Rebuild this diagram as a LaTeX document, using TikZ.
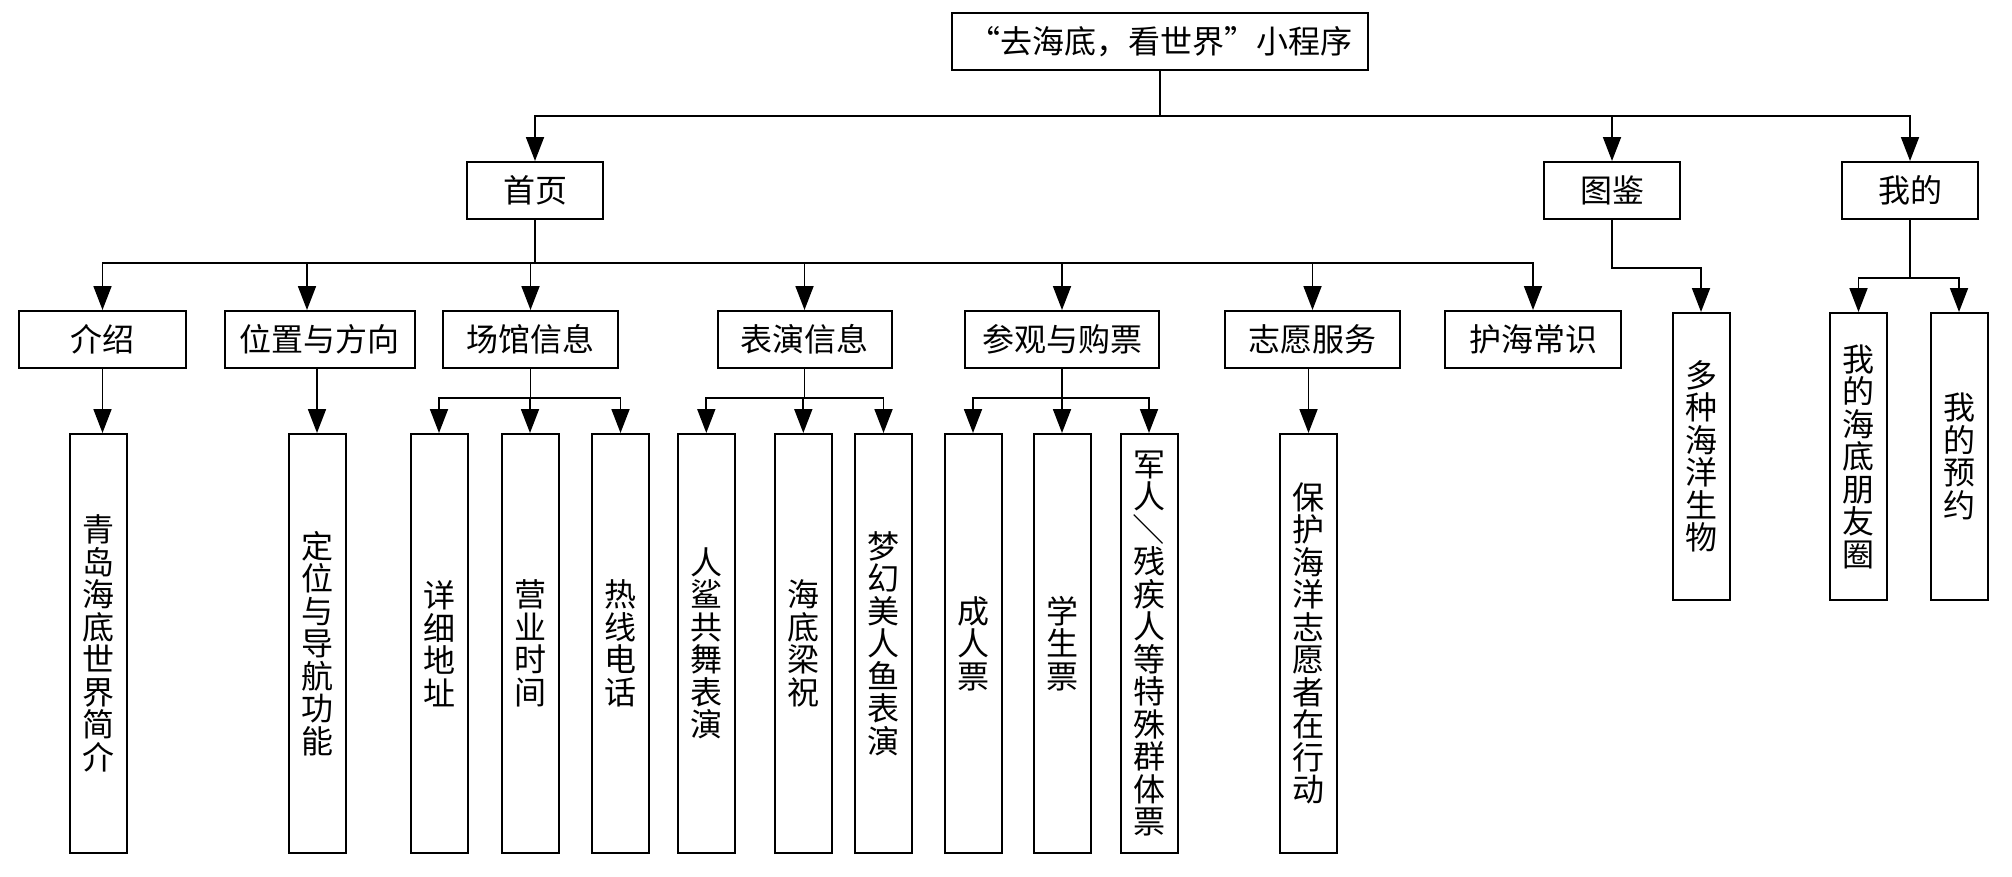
\documentclass[tikz,border=0pt]{standalone}
\usepackage{fontspec}
\setmainfont{Noto Sans CJK SC}
\usetikzlibrary{arrows.meta}

\begin{document}
\begin{tikzpicture}[
			x=1pt,
			y=-1pt,
			font=\fontsize{32}{32.5}\selectfont,
			box/.style={
				draw,
				line width=2pt,
				fill=white,
				inner sep=0pt,
				minimum height=57pt
			},
			vbox/.style={
				box,
				align=center,
				minimum width=57pt,
				minimum height=419pt
			},
			rbox/.style={
				vbox,
				minimum height=287pt
			},
			arr/.style={
				-{Triangle[length=24pt,width=18pt]},
				line width=1.8pt
			}
			]
			\useasboundingbox (0,0) rectangle (2012,876);
			
			% Top
			\node[box, minimum width=416pt] (root) at (1160,41.5) {“去海底，看世界”小程序};
			\node[box, minimum width=136pt] (home) at (535,190.5) {首页};
			\node[box, minimum width=136pt] (atlas) at (1612,190.5) {图鉴};
			\node[box, minimum width=136pt] (mine) at (1910,190.5) {我的};
			
			% Second row
			\node[box, minimum width=167pt] (intro) at (102.5,339.5) {介绍};
			\node[box, minimum width=190pt] (loc) at (319.5,339.5) {位置与方向};
			\node[box, minimum width=175pt] (venue) at (530.5,339.5) {场馆信息};
			\node[box, minimum width=174pt] (perf) at (804.5,339.5) {表演信息};
			\node[box, minimum width=194pt] (visit) at (1062,339.5) {参观与购票};
			\node[box, minimum width=175pt] (vol) at (1312.5,339.5) {志愿服务};
			\node[box, minimum width=176pt] (care) at (1533,339.5) {护海常识};
			
			% Leaves
			\node[vbox] (brief) at (98.75,643.5) {青\\岛\\海\\底\\世\\界\\简\\介};
			\node[vbox] (nav) at (317,643.5) {定\\位\\与\\导\\航\\功\\能};
			\node[vbox] (addr) at (439,643.5) {详\\细\\地\\址};
			\node[vbox] (hours) at (530,643.5) {营\\业\\时\\间};
			\node[vbox] (phone) at (620.5,643.5) {热\\线\\电\\话};
			\node[vbox] (shark) at (706.3,643.5) {人\\鲨\\共\\舞\\表\\演};
			\node[vbox] (liangzhu) at (803.3,643.5) {海\\底\\梁\\祝};
			\node[vbox] (mermaid) at (883.5,643.5) {梦\\幻\\美\\人\\鱼\\表\\演};
			\node[vbox] (adult) at (973,643.5) {成\\人\\票};
			\node[vbox] (student) at (1062,643.5) {学\\生\\票};
			\node[vbox] (special) at (1149,643.5) {军\\人\\\rotatebox[origin=c]{-90}{／}\\残\\疾\\人\\等\\特\\殊\\群\\体\\票};
			\node[vbox] (volact) at (1308.5,643.5) {保\\护\\海\\洋\\志\\愿\\者\\在\\行\\动};
			\node[rbox] (species) at (1701,456.5) {多\\种\\海\\洋\\生\\物};
			\node[rbox] (friends) at (1858.5,456.5) {我\\的\\海\\底\\朋\\友\\圈};
			\node[rbox] (booking) at (1959,456.5) {我\\的\\预\\约};
			
			% Bars
			\coordinate (bar1) at (0,115.7);
			\coordinate (bar2) at (0,263);
			\coordinate (bar3) at (0,398);
			\coordinate (bend) at (0,268);
			\coordinate (bar4) at (0,278);
			\coordinate (locin) at ([xshift=-12.5pt]loc.north);
			
			% Connections
			\foreach \c in {home,atlas,mine}
			\draw[arr] (root.south) |- (bar1 -| \c.north) -- (\c.north);
			\foreach \c in {intro,venue,perf,visit,vol,care}
			\draw[arr] (home.south) |- (bar2 -| \c.north) -- (\c.north);
			\draw[arr] (home.south) |- (bar2 -| locin) -- (locin);
			\draw[arr] (intro.south) -- (intro.south |- brief.north);
			\draw[arr] (loc.south -| nav.north) -- (nav.north);
			\foreach \c in {addr,hours,phone}
			\draw[arr] (venue.south) |- (bar3 -| \c.north) -- (\c.north);
			\foreach \c in {shark,liangzhu,mermaid}
			\draw[arr] (perf.south) |- (bar3 -| \c.north) -- (\c.north);
			\foreach \c in {adult,student,special}
			\draw[arr] (visit.south) |- (bar3 -| \c.north) -- (\c.north);
			\draw[arr] (vol.south -| volact.north) -- (volact.north);
			\draw[arr] (atlas.south) |- (bend -| species.north) -- (species.north);
			\foreach \c in {friends,booking}
			\draw[arr] (mine.south) |- (bar4 -| \c.north) -- (\c.north);
		\end{tikzpicture}
\end{document}
